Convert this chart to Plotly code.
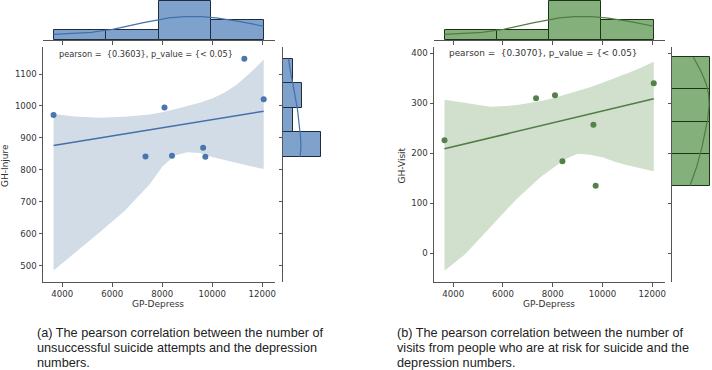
import numpy as np
import plotly.graph_objects as go

# ---------------- data ----------------
gp_depress = [3650, 7330, 8090, 8390, 9635, 9725, 11285, 12060]
gh_injure = [972, 842, 995, 844, 869, 841, 1148, 1021]
gh_visit = [226, 310, 316, 184, 257, 135, 392, 340]

band_x = [3650, 4500, 5500, 6500, 7500, 8000, 8500, 9000, 9500, 10000, 10500, 11000, 11500, 12060]
injure_ci_upper = [975, 967, 963, 966, 973, 980, 990, 1000, 1010, 1023, 1042, 1068, 1102, 1145]
injure_ci_lower = [485, 540, 605, 672, 755, 810, 845, 855, 853, 840, 830, 821, 812, 803]
visit_ci_upper = [307, 300, 293, 296, 304, 310, 317, 324, 332, 341, 350, 360, 370, 383]
visit_ci_lower = [-35, -1, 53, 106, 152, 170, 188, 199, 197, 192, 183, 176, 170, 164]

x_ticks = [4000, 6000, 8000, 10000, 12000]
injure_ticks = [500, 600, 700, 800, 900, 1000, 1100]
visit_ticks = [0, 100, 200, 300, 400]

stat_text_a = "pearson =  {0.3603}, p_value = {< 0.05}"
stat_text_b = "pearson =  {0.3070}, p_value = {< 0.05}"
caption_a = ["(a) The pearson correlation between the number of",
             "unsuccessful suicide attempts and the depression",
             "numbers."]
caption_b = ["(b) The pearson correlation between the number of",
             "visits from people who are at risk for suicide and the",
             "depression numbers."]

W, H = 712, 370
AX = "#555555"
TXT = "#333333"
TICKFONT = dict(family="DejaVu Sans", size=8.6, color=TXT)


def px_x(x):
    return x / W


def px_y(y):
    return 1 - y / H


def kde_counts(vals, grid, binwidth):
    v = np.asarray(vals, float)
    n = len(v)
    bw = v.std(ddof=1) * n ** (-0.2)
    g = np.asarray(grid, float)[:, None]
    dens = np.exp(-0.5 * ((g - v[None, :]) / bw) ** 2).sum(1) / (n * bw * np.sqrt(2 * np.pi))
    return dens * n * binwidth


fig = go.Figure()

panels = [
    dict(y=gh_injure, up=injure_ci_upper, lo=injure_ci_lower, ax=("x", "y", "x2", "y2", "x3", "y3"),
         pt="#4a76ad", line="#4470aa", band="#d1dce7", hist="#7ea2cc", edge="#1f2d3d"),
    dict(y=gh_visit, up=visit_ci_upper, lo=visit_ci_lower, ax=("x4", "y4", "x5", "y5", "x6", "y6"),
         pt="#55804b", line="#4f7d44", band="#d0e0cc", hist="#84b07c", edge="#1d3318"),
]

for p in panels:
    xm, ym, xt, yt, xr, yr = p["ax"]
    # confidence band
    fig.add_trace(go.Scatter(x=band_x + band_x[::-1], y=p["up"] + p["lo"][::-1], fill="toself",
                             fillcolor=p["band"], line=dict(width=0), mode="lines",
                             hoverinfo="skip", showlegend=False, xaxis=xm, yaxis=ym))
    # regression line
    slope, icpt = np.polyfit(gp_depress, p["y"], 1)
    lx = np.array([min(gp_depress), max(gp_depress)])
    fig.add_trace(go.Scatter(x=lx, y=slope * lx + icpt, mode="lines",
                             line=dict(color=p["line"], width=1.6), showlegend=False,
                             xaxis=xm, yaxis=ym))
    # points
    fig.add_trace(go.Scatter(x=gp_depress, y=p["y"], mode="markers",
                             marker=dict(color=p["pt"], size=6), showlegend=False,
                             xaxis=xm, yaxis=ym))
    # top marginal histogram
    cnt, edges = np.histogram(gp_depress, bins=4)
    bwid = edges[1] - edges[0]
    fig.add_trace(go.Bar(x=(edges[:-1] + edges[1:]) / 2, y=cnt, width=bwid,
                         marker=dict(color=p["hist"], line=dict(color=p["edge"], width=1)),
                         showlegend=False, xaxis=xt, yaxis=yt))
    gx = np.linspace(edges[0], edges[-1], 200)
    fig.add_trace(go.Scatter(x=gx, y=kde_counts(gp_depress, gx, bwid), mode="lines",
                             line=dict(color=p["line"], width=1.2), showlegend=False,
                             xaxis=xt, yaxis=yt))
    # right marginal histogram
    cnt, edges = np.histogram(p["y"], bins=4)
    bwid = edges[1] - edges[0]
    fig.add_trace(go.Bar(y=(edges[:-1] + edges[1:]) / 2, x=cnt, width=bwid, orientation="h",
                         marker=dict(color=p["hist"], line=dict(color=p["edge"], width=1)),
                         showlegend=False, xaxis=xr, yaxis=yr))
    gy = np.linspace(edges[0], edges[-1], 200)
    fig.add_trace(go.Scatter(y=gy, x=kde_counts(p["y"], gy, bwid), mode="lines",
                             line=dict(color=p["line"], width=1.2), showlegend=False,
                             xaxis=xr, yaxis=yr))


def main_axis(dom, rng, ticks, anchor):
    return dict(domain=dom, range=rng, tickvals=ticks, ticktext=[str(t) for t in ticks],
                ticks="outside", ticklen=3.5, tickwidth=0.8, tickcolor=AX, showline=True,
                linecolor=AX, linewidth=1, showgrid=False, zeroline=False, tickfont=TICKFONT,
                anchor=anchor, automargin=False)


xrange_ = [3228, 12512]
main_y_dom = [px_y(282), px_y(47)]
top_dom = [px_y(40), 1.0]

layout_axes = dict(
    xaxis=main_axis([px_x(43), px_x(275)], xrange_, x_ticks, "y"),
    yaxis=main_axis(main_y_dom, [449, 1184.5], injure_ticks, "x"),
    xaxis2=dict(main_axis([px_x(43), px_x(275)], xrange_, x_ticks, "y2"), matches="x",
                showticklabels=False),
    yaxis2=dict(domain=top_dom, range=[0, 4.07], visible=False, anchor="x2", automargin=False),
    xaxis3=dict(domain=[px_x(283), px_x(323)], range=[0, 4.2], visible=False, anchor="y3",
                automargin=False),
    yaxis3=dict(main_axis(main_y_dom, [449, 1184.5], injure_ticks, "x3"), matches="y",
                showticklabels=False),
    xaxis4=main_axis([px_x(434), px_x(665)], xrange_, x_ticks, "y4"),
    yaxis4=main_axis(main_y_dom, [-57.4, 412.6], visit_ticks, "x4"),
    xaxis5=dict(main_axis([px_x(434), px_x(665)], xrange_, x_ticks, "y5"), matches="x4",
                showticklabels=False),
    yaxis5=dict(domain=top_dom, range=[0, 4.07], visible=False, anchor="x5", automargin=False),
    xaxis6=dict(domain=[px_x(672), px_x(712)], range=[0, 2.1], visible=False, anchor="y6",
                automargin=False),
    yaxis6=dict(main_axis(main_y_dom, [-57.4, 412.6], visit_ticks, "x6"), matches="y4",
                showticklabels=False),
)

ann = []
# statistic text
ann.append(dict(x=px_x(57), y=px_y(54), xref="paper", yref="paper", text=stat_text_a,
                showarrow=False, xanchor="left", yanchor="middle", bgcolor="white", borderpad=1,
                font=dict(family="DejaVu Sans", size=8.2, color=TXT)))
ann.append(dict(x=px_x(446), y=px_y(53.5), xref="paper", yref="paper", text=stat_text_b,
                showarrow=False, xanchor="left", yanchor="middle", bgcolor="white", borderpad=2,
                font=dict(family="DejaVu Sans", size=8.9, color=TXT)))
# axis titles
for xc, txt in [(158, "GP-Depress"), (549, "GP-Depress")]:
    ann.append(dict(x=px_x(xc), y=px_y(304), xref="paper", yref="paper", text=txt,
                    showarrow=False, xanchor="center", yanchor="middle",
                    font=dict(family="DejaVu Sans", size=9, color=TXT)))
for xc, txt in [(5, "GH-Injure"), (401.5, "GH-Visit")]:
    ann.append(dict(x=px_x(xc), y=px_y(166), xref="paper", yref="paper", text=txt,
                    showarrow=False, xanchor="center", yanchor="middle", textangle=-90,
                    font=dict(family="DejaVu Sans", size=9, color=TXT)))
# captions (one annotation per line for exact spacing)
for xl, lines in [(36, caption_a), (396, caption_b)]:
    for i, line in enumerate(lines):
        ann.append(dict(x=px_x(xl), y=px_y(333 + 15 * i), xref="paper", yref="paper", text=line,
                        showarrow=False, xanchor="left", yanchor="middle", align="left",
                        borderpad=0,
                        font=dict(family="Liberation Sans, Arial", size=12.7, color="#222222")))

fig.update_layout(template="none", width=W, height=H, autosize=False,
                  margin=dict(l=0, r=0, t=0, b=0, pad=0),
                  paper_bgcolor="white", plot_bgcolor="white", bargap=0,
                  showlegend=False, annotations=ann, **layout_axes)

fig.write_html("out.html", config={"displayModeBar": False},
               post_script="document.body.style.margin='0';document.body.style.overflow='hidden';")
